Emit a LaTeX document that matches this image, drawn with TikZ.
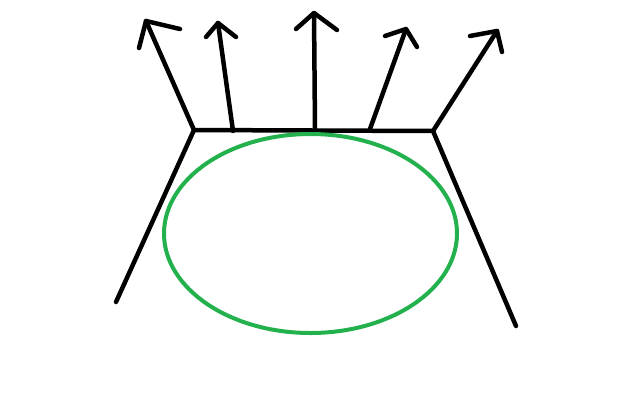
\documentclass[tikz,border=0pt]{standalone}
\usetikzlibrary{shapes.geometric}
\begin{document}
\begin{tikzpicture}[x=1pt,y=-1pt,
  stroke/.style={draw=black,line width=4.5pt,line cap=round,line join=round},
  ring/.style={draw=ringgreen,line width=4pt}]
\definecolor{ringgreen}{HTML}{22B14C}
\useasboundingbox (0,0) rectangle (618,400);
% base frame
\coordinate (L) at (194,130);
\coordinate (R) at (433,131);
\coordinate (LB) at (116,302);
\coordinate (RB) at (516,326);
\draw[stroke] (LB) -- (L) -- (R) -- (RB);
% ellipse
\node[ring,ellipse,minimum width=293pt,minimum height=199pt,inner sep=0pt] (ell) at (310.5,233.5) {};
% arrows: base, tip, head ends
\coordinate (b1) at (194,130); \coordinate (t1) at (146,21); \coordinate (h1a) at (180,29); \coordinate (h1b) at (139,48);
\coordinate (b2) at (233,131); \coordinate (t2) at (218,23); \coordinate (h2a) at (206,37); \coordinate (h2b) at (236,37);
\coordinate (b3) at (315,129); \coordinate (t3) at (314,13); \coordinate (h3a) at (296,29); \coordinate (h3b) at (337,30);
\coordinate (b4) at (370,129); \coordinate (t4) at (406,29); \coordinate (h4a) at (385,36); \coordinate (h4b) at (417,47);
\coordinate (b5) at (433,131); \coordinate (t5) at (497,31); \coordinate (h5a) at (470,36); \coordinate (h5b) at (502,52);
\foreach \i in {1,...,5}{
  \draw[stroke] (b\i) -- (t\i);
  \draw[stroke] (h\i a) -- (t\i) -- (h\i b);
}
\end{tikzpicture}
\end{document}
